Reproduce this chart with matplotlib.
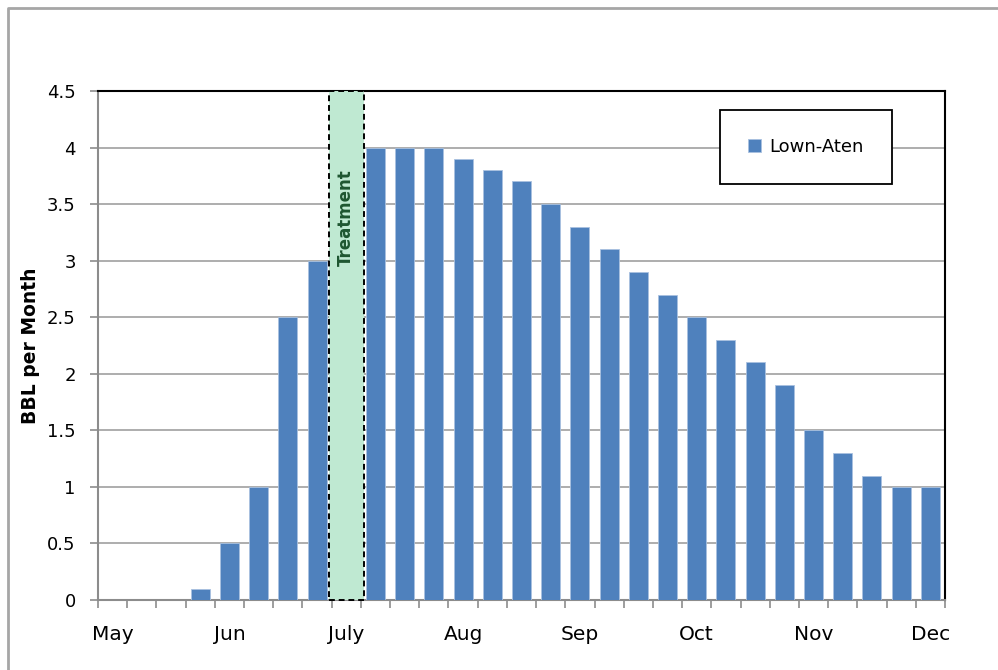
import matplotlib.pyplot as plt
from matplotlib.patches import Rectangle
from matplotlib.lines import Line2D

# weekly production, May -> Dec (one bar per week)
values = [0, 0, 0, 0.1, 0.5, 1, 2.5, 3, 0, 4, 4, 4, 3.9, 3.8, 3.7, 3.5,
          3.3, 3.1, 2.9, 2.7, 2.5, 2.3, 2.1, 1.9, 1.5, 1.3, 1.1, 1, 1]
month_labels = ["May", "Jun", "July", "Aug", "Sep", "Oct", "Nov", "Dec"]
month_every = 4
treatment_slot = 8
yticks = [0, 0.5, 1, 1.5, 2, 2.5, 3, 3.5, 4, 4.5]
series_name = "Lown-Aten"

BLUE = "#4f81bd"
GRID = "#a0a0a0"
AXIS = "#8c8c8c"
GREEN = "#bfe9d2"
DKGREEN = "#1e5631"

plt.rcParams["font.family"] = ["DejaVu Sans"]

fig = plt.figure(figsize=(9.98, 6.70), dpi=100)
ax = fig.add_axes([0.0982, 0.1045, 0.8487, 0.7597])

x = list(range(len(values)))
ax.set_axisbelow(True)
ax.yaxis.grid(True, color=GRID, lw=1.2)
ax.bar(x, values, width=0.65, color=BLUE, edgecolor="#a9c1e0", lw=0.6,
       label=series_name, zorder=3)

# treatment window
ax.add_patch(Rectangle((treatment_slot - 0.6, 0), 1.2, 4.5, facecolor=GREEN,
                       edgecolor="black", ls=(0, (3, 2)), lw=1.4, zorder=4,
                       clip_on=False))
ax.text(treatment_slot, 3.38, "Treatment", rotation=90, ha="center", va="center",
        fontsize=12, fontweight="bold", color=DKGREEN, zorder=5)

ax.set_xlim(-0.5, len(values) - 0.5)
ax.set_ylim(0, 4.5)
ax.set_yticks(yticks)
ax.set_yticklabels([f"{v:g}" for v in yticks], fontsize=13)

# tick marks between categories, labels once a month
ax.set_xticks([i - 0.5 for i in range(len(values) + 1)])
ax.set_xticklabels([])
ax.set_xticks(list(range(0, len(values), month_every)), minor=True)
ax.set_xticklabels(month_labels, minor=True, fontsize=14.5)
ax.tick_params(axis="x", which="major", length=6, width=1.2, color=AXIS, direction="out")
ax.tick_params(axis="x", which="minor", length=0, pad=18)
ax.tick_params(axis="y", length=6, width=1.2, color=AXIS, pad=10)

for s in ("left", "bottom"):
    ax.spines[s].set_color(AXIS)
    ax.spines[s].set_linewidth(1.5)
for s in ("top", "right"):
    ax.spines[s].set_color("black")
    ax.spines[s].set_linewidth(1.5)

ax.set_ylabel("BBL per Month", fontsize=13.5, fontweight="bold", labelpad=5)

leg = ax.legend(loc="center", bbox_to_anchor=(0.836, 0.89), fontsize=13,
                handlelength=0.7, handleheight=0.7, handletextpad=0.5,
                borderpad=1.55, fancybox=False, framealpha=1)
leg.get_frame().set_edgecolor("black")
leg.get_frame().set_linewidth(1.3)
leg.set_zorder(6)

# chart-area border (top and left visible)
fig.add_artist(Line2D([8 / 998, 8 / 998, 1], [0, 1 - 8 / 670, 1 - 8 / 670],
                      transform=fig.transFigure, color="#a6a6a6", lw=2))

fig.savefig("out.png", dpi=100)
